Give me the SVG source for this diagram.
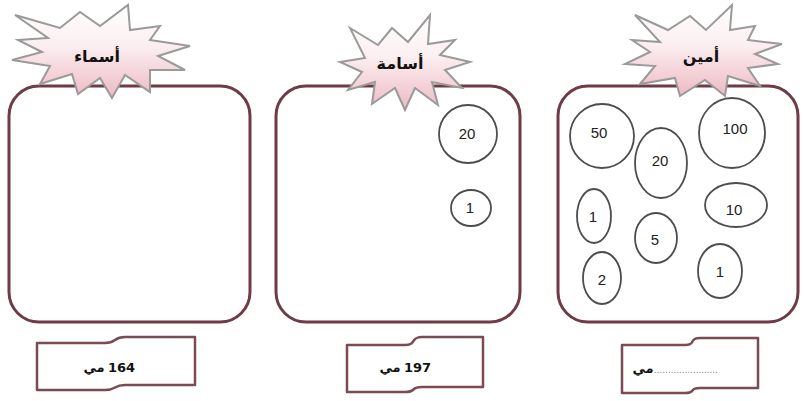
<svg xmlns="http://www.w3.org/2000/svg" width="804" height="401" viewBox="0 0 804 401">
<defs>
<linearGradient id="pink" x1="0" y1="0" x2="0" y2="1">
<stop offset="0" stop-color="#ffffff"/>
<stop offset="0.45" stop-color="#fbeef0"/>
<stop offset="1" stop-color="#eeb9c3"/>
</linearGradient>
</defs>
<style>
.box{fill:#ffffff;stroke:#6e3b47;stroke-width:3}
.star{fill:url(#pink);stroke:#9a9a9a;stroke-width:2;stroke-linejoin:miter}
.coin{fill:none;stroke:#4d4d4d;stroke-width:1.8}
.num{font-family:"Liberation Sans",Arial,sans-serif;font-size:15px;fill:#222;text-anchor:middle}
.name{font-family:"DejaVu Sans",sans-serif;font-weight:bold;font-size:16px;fill:#111;text-anchor:middle}
.flag{fill:#ffffff;stroke:#7a4a55;stroke-width:2.5;stroke-linejoin:round}
.amt{font-family:"DejaVu Sans",sans-serif;font-weight:bold;font-size:13px;fill:#111}
.unit{font-family:"DejaVu Sans",sans-serif;font-weight:bold;font-size:13px;fill:#111;text-anchor:middle}
.dots{font-family:"Liberation Sans",Arial,sans-serif;font-size:10px;fill:#888}
</style>
<rect width="804" height="401" fill="#ffffff"/>

<g id="box-asmaa">
<rect class="box" x="9" y="86" width="241" height="236" rx="30"/>
</g>
<g id="box-oussama">
<rect class="box" x="276" y="86" width="244" height="236" rx="30"/>
</g>
<g id="box-amine">
<rect class="box" x="558" y="86" width="240" height="236" rx="30"/>
</g>

<g id="star-asmaa">
<polygon class="star" points="15,15 60,28 80,12 100,26 128,5 130,30 160,26 150,40 190,46 158,56 185,70 150,70 150,92 125,75 112,98 100,78 78,94 72,74 40,84 50,66 12,60 42,52 18,40 48,38"/>
<text class="name" x="97" y="62">أسماء</text>
</g>
<g id="star-oussama">
<polygon class="star" points="350,28 378,45 392,28 408,42 430,15 428,44 455,40 440,55 470,62 445,70 462,88 432,82 438,105 415,88 405,110 395,88 372,104 375,82 348,90 362,72 340,62 365,58"/>
<text class="name" x="400" y="69">أسامة</text>
</g>
<g id="star-amine">
<polygon class="star" points="635,15 668,30 690,16 706,30 732,5 730,30 755,26 748,40 782,44 755,54 778,64 748,68 760,86 728,76 725,96 705,80 680,96 675,78 640,84 655,66 625,64 650,52 632,40 660,42"/>
<text class="name" x="701" y="62">أمين</text>
</g>

<g id="coins-oussama">
<circle class="coin" cx="468" cy="134" r="29"/>
<text class="num" x="467" y="139">20</text>
<ellipse class="coin" cx="471" cy="208" rx="20" ry="18"/>
<text class="num" x="470" y="213">1</text>
</g>

<g id="coins-amine">
<ellipse class="coin" cx="602" cy="136" rx="32" ry="32"/>
<text class="num" x="599" y="138">50</text>
<ellipse class="coin" cx="661" cy="163" rx="26" ry="35"/>
<text class="num" x="660" y="166">20</text>
<ellipse class="coin" cx="732" cy="133" rx="33" ry="35"/>
<text class="num" x="735" y="134">100</text>
<ellipse class="coin" cx="594" cy="216" rx="17" ry="27"/>
<text class="num" x="593" y="222">1</text>
<ellipse class="coin" cx="736" cy="205" rx="31" ry="22"/>
<text class="num" x="734" y="215">10</text>
<ellipse class="coin" cx="656" cy="238" rx="21" ry="25"/>
<text class="num" x="655" y="245">5</text>
<ellipse class="coin" cx="602" cy="278" rx="19" ry="26"/>
<text class="num" x="602" y="285">2</text>
<ellipse class="coin" cx="720" cy="271" rx="22" ry="27"/>
<text class="num" x="720" y="277">1</text>
</g>

<g id="flag-asmaa">
<path class="flag" d="M37,343 L105,343 C117,343 113,337 125,337 L195,337 L195,385 L125,385 C113,385 117,390 105,390 L37,390 Z"/>
<text class="unit" x="94" y="372">مي</text>
<text class="amt" x="108" y="372">164</text>
</g>
<g id="flag-oussama">
<path class="flag" d="M347,345 L405,345 C417,345 410,337 422,337 L483,337 L483,387 L422,387 C410,387 417,392 405,392 L347,392 Z"/>
<text class="unit" x="390" y="372">مي</text>
<text class="amt" x="404" y="372">197</text>
</g>
<g id="flag-amine">
<path class="flag" d="M622,345 L685,345 C697,345 688,338 700,338 L758,338 L758,388 L700,388 C688,388 697,393 685,393 L622,393 Z"/>
<text class="unit" x="643" y="373">مي</text>
<text class="dots" x="654" y="373">.......................</text>
</g>
</svg>
